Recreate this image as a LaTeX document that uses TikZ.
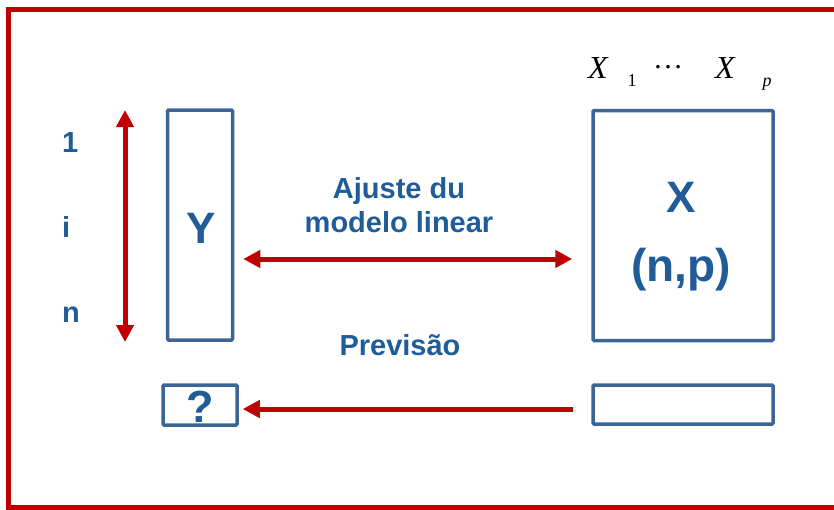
\documentclass[tikz,border=0pt]{standalone}
\usepackage{fontspec}
\setmainfont{Liberation Sans}
\newfontfamily\serifpart{Liberation Serif}
\usetikzlibrary{arrows.meta}
\definecolor{framec}{HTML}{C00000}
\definecolor{boxc}{HTML}{3C6494}
\definecolor{txtc}{HTML}{1F5C98}
\begin{document}
\begin{tikzpicture}[x=1pt,y=-1pt,
  box/.style={draw=boxc, line width=3.5pt, rounded corners=1pt, inner sep=0pt},
  lbl/.style={text=txtc, font=\fontsize{29}{33}\selectfont\bfseries, inner sep=0pt, anchor=base},
  big/.style={text=txtc, font=\fontsize{46}{52}\selectfont\bfseries, inner sep=0pt, anchor=base},
  var/.style={font=\fontsize{32}{36}\selectfont\serifpart\itshape, inner sep=0pt, anchor=base},
  sub/.style={font=\fontsize{18}{20}\selectfont\serifpart, inner sep=0pt, anchor=base},
  arr/.style={draw=framec, line width=5pt, -{Triangle[length=17pt,width=17pt]}},
  darr/.style={draw=framec, line width=5pt, {Triangle[length=17pt,width=17pt]}-{Triangle[length=17pt,width=17pt]}},
]
\clip (0,0) rectangle (834,509);
% frame
\draw[framec, line width=5pt] (8.5,507.5) rectangle (845,9);
% boxes
\node[box, minimum width=65pt, minimum height=230pt] (ybox) at (200,225) {};
\node[box, minimum width=180pt, minimum height=230pt] (xbox) at (683,225.5) {};
\node[box, minimum width=74pt, minimum height=40pt] (qbox) at (200,405) {};
\node[box, minimum width=180pt, minimum height=39pt] (nbox) at (683,404.5) {};
% texts in boxes
\node[big, font=\fontsize{44}{50}\selectfont\bfseries] (ylbl) at (201,243) {Y};
\node[big, font=\fontsize{44}{50}\selectfont\bfseries] (xlbl) at (681,212) {X};
\node[big] (nplbl) at (681,281) {(n,p)};
\node[big, font=\fontsize{45}{50}\selectfont\bfseries] (qlbl) at (200,422) {?};
% row labels
\node[lbl, anchor=base west] (r1) at (62,152) {1};
\node[lbl, anchor=base west] (ri) at (62,237) {i};
\node[lbl, anchor=base west] (rn) at (62,322) {n};
% arrow labels
\node[lbl] (aj1) at (399,198) {Ajuste du};
\node[lbl] (aj2) at (399,232) {modelo linear};
\node[lbl] (prev) at (400,355) {Previsão};
% column labels
\node[var] (x1) at (598,78) {X};
\node[sub] (s1) at (632,86) {1};
\node[inner sep=0pt, font=\fontsize{30}{32}\selectfont\serifpart] (dots) at (668,67) {…};
\node[var] (xp) at (725,78) {X};
\node[sub, font=\fontsize{18}{20}\selectfont\serifpart\itshape] (sp) at (767,86) {p};
% arrows
\coordinate (vtop) at (125,110);
\coordinate (vbot) at (125,342);
\draw[darr] (vbot) -- (vtop);
\draw[darr] ([xshift=9pt]ybox.east |- 0,259) -- ([xshift=-19pt]xbox.west |- 0,259);
\draw[arr] ([xshift=-18pt]nbox.west |- 0,409) -- ([xshift=4pt]qbox.east |- 0,409);
\end{tikzpicture}
\end{document}
